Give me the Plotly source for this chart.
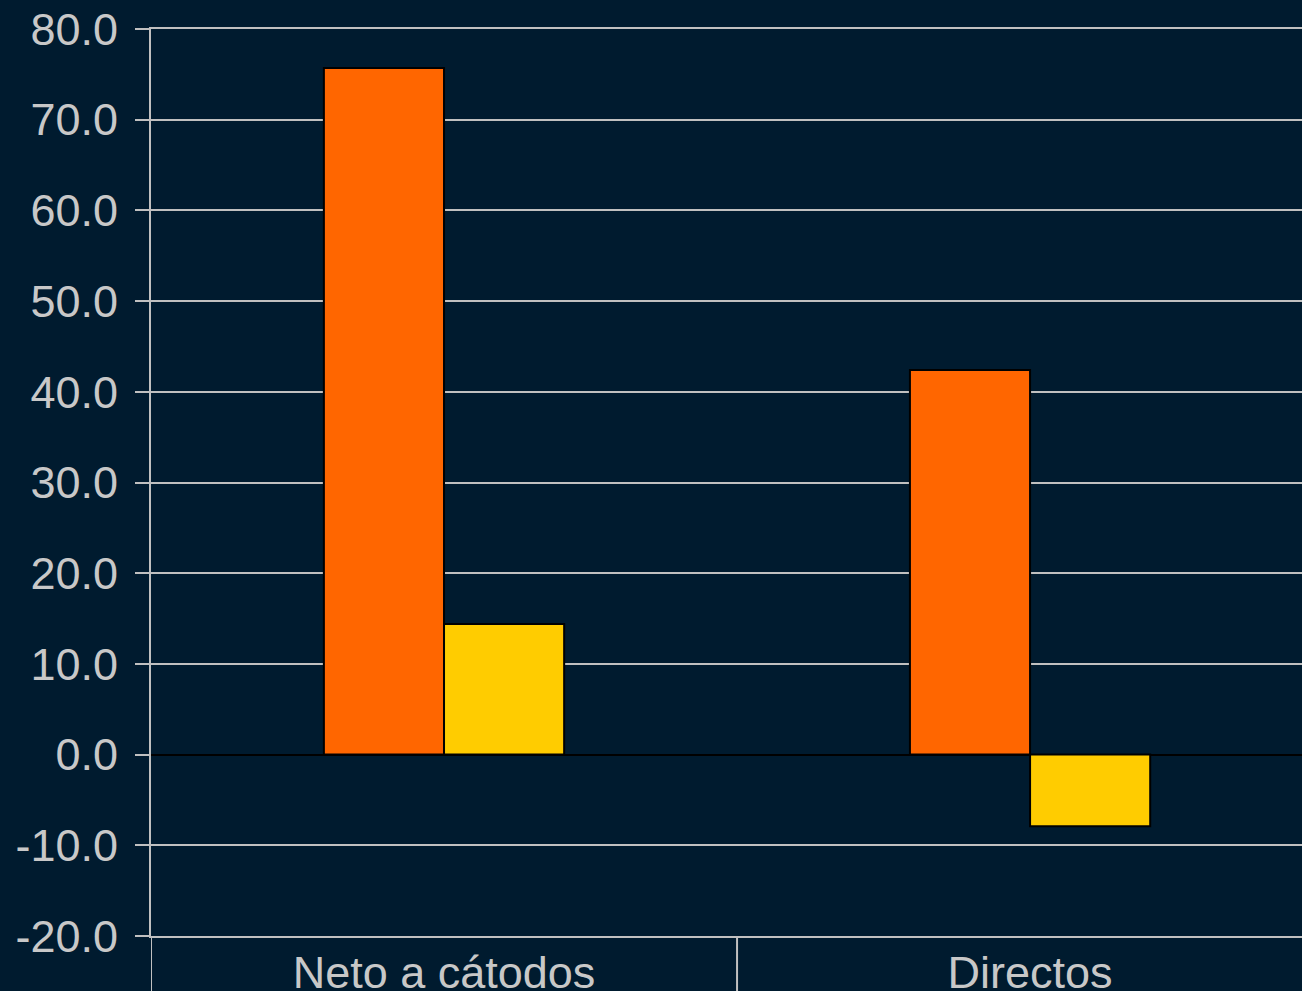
import plotly.graph_objects as go

categories = ["Neto a cátodos", "Directos"]
serie_a = [75.7, 42.4]
serie_b = [14.4, -7.9]
y_ticks = [-20, -10, 0, 10, 20, 30, 40, 50, 60, 70, 80]
y_tick_labels = ["-20.0", "-10.0", "0.0", "10.0", "20.0", "30.0", "40.0", "50.0", "60.0", "70.0", "80.0"]

BG = "#001b2f"
GRID = "#c0c0c0"
TXT = "#c8c8c8"

fig = go.Figure()
fig.add_trace(go.Bar(x=categories, y=serie_a, name="Serie A",
                     marker=dict(color="#ff6600", line=dict(color="#000000", width=2))))
fig.add_trace(go.Bar(x=categories, y=serie_b, name="Serie B",
                     marker=dict(color="#ffcc00", line=dict(color="#000000", width=2))))

for xb in [-0.5, 0.5]:
    fig.add_shape(type="line", xref="x", yref="paper", x0=xb, x1=xb, y0=0, y1=-0.2,
                  line=dict(color=GRID, width=2), layer="below")

fig.update_layout(
    width=1302, height=991,
    margin=dict(l=151, r=0, t=29, b=55),
    paper_bgcolor=BG, plot_bgcolor=BG,
    barmode="group", bargap=0.59, bargroupgap=0,
    showlegend=False,
    font=dict(family="Liberation Sans, Arial, sans-serif", color=TXT, size=45),
)
fig.update_xaxes(
    range=[-0.5, 1.464], showgrid=False,
    showline=True, mirror=True, linecolor=GRID, linewidth=2,
    ticks="", tickfont=dict(size=45, color=TXT), automargin=False, fixedrange=True,
    ticklabelstandoff=-4,
)
fig.update_yaxes(
    range=[-20, 80], tickvals=y_ticks, ticktext=y_tick_labels,
    showgrid=True, gridcolor=GRID, gridwidth=2,
    zeroline=True, zerolinecolor="#000000", zerolinewidth=2,
    showline=True, linecolor=GRID, linewidth=2,
    ticks="outside", ticklen=14, tickwidth=2, tickcolor=GRID,
    tickfont=dict(size=45, color=TXT), automargin=False,
    ticklabelstandoff=8,
)

fig.write_html("out.html", config={"displayModeBar": False},
               post_script="document.body.style.margin='0';document.body.style.overflow='hidden';")
